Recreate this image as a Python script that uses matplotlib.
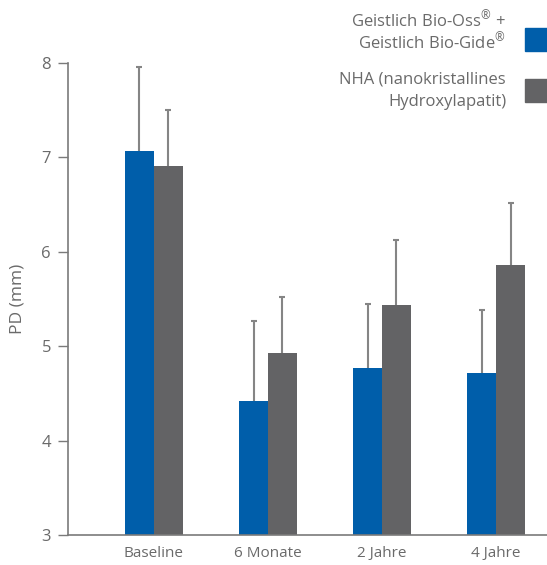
import matplotlib
matplotlib.use("Agg")
import matplotlib.pyplot as plt
import matplotlib.patches as mpatches
import numpy as np

# data
categories = ["Baseline", "6 Monate", "2 Jahre", "4 Jahre"]
bio_oss = [7.06, 4.42, 4.77, 4.72]
bio_oss_err = [0.89, 0.85, 0.68, 0.66]
nha = [6.91, 4.93, 5.44, 5.86]
nha_err = [0.59, 0.59, 0.68, 0.65]
yticks = [3, 4, 5, 6, 7, 8]

label_bio = ["Geistlich Bio-Oss$^{\\circledR}$ +", "Geistlich Bio-Gide$^{\\circledR}$"]
label_nha = ["NHA (nanokristallines", "Hydroxylapatit)"]

plt.rcParams['font.family'] = ['Open Sans', 'DejaVu Sans']
plt.rcParams['mathtext.fontset'] = 'custom'
plt.rcParams['mathtext.rm'] = 'Open Sans'

blue = '#005eaa'
grey = '#636365'
errc = '#858585'
txtc = '#6a6a6a'
axc = '#7a7a7a'

fig = plt.figure(figsize=(5.47, 5.65), dpi=100)
W, H = 547, 565
ax = fig.add_axes([68 / W, (565 - 535) / H, 1 - 68 / W, (535 - 62.7) / H])

x = np.arange(len(categories))
bw = 0.254
ax.bar(x - bw / 2, bio_oss, width=bw, color=blue, zorder=2)
ax.bar(x + bw / 2, nha, width=bw, color=grey, zorder=2)
# error bars behind the bars so only the upper half shows
ax.errorbar(x - bw / 2, bio_oss, yerr=bio_oss_err, fmt='none',
            ecolor=errc, elinewidth=1.5, capsize=2.5, capthick=1.5, zorder=1)
ax.errorbar(x + bw / 2, nha, yerr=nha_err, fmt='none',
            ecolor=errc, elinewidth=1.5, capsize=2.5, capthick=1.5, zorder=1)

ax.set_ylim(3, 8)
ax.set_xlim(-0.754, 3.447)
ax.set_yticks(yticks)
ax.set_xticks(x)
ax.set_xticklabels(categories)
ax.tick_params(axis='y', length=7.2, width=1, color=axc, labelcolor=txtc,
               labelsize=12, pad=5)
ax.tick_params(axis='x', length=0, labelcolor=txtc, labelsize=11, pad=8)
for s in ['top', 'right']:
    ax.spines[s].set_visible(False)
for s in ['left', 'bottom']:
    ax.spines[s].set_color(axc)
    ax.spines[s].set_linewidth(1.2)
ax.set_ylabel("PD (mm)", color=txtc, fontsize=12.5)
ax.yaxis.set_label_coords(-(68 - 26) / 479, 0.5)

# legend drawn by hand
fs = 12
fig.text(506 / W, 1 - 20 / H, label_bio[0], ha='right', va='center', color=txtc, fontsize=fs)
fig.text(506 / W, 1 - 42 / H, label_bio[1], ha='right', va='center', color=txtc, fontsize=fs)
fig.text(506 / W, 1 - 80 / H, label_nha[0], ha='right', va='center', color=txtc, fontsize=fs)
fig.text(506 / W, 1 - 102 / H, label_nha[1], ha='right', va='center', color=txtc, fontsize=fs)
fig.patches.append(mpatches.Rectangle((525 / W, 1 - 50.7 / H), 22 / W, 22.4 / H,
                                      transform=fig.transFigure, color=blue))
fig.patches.append(mpatches.Rectangle((525 / W, 1 - 101.7 / H), 22 / W, 22.4 / H,
                                      transform=fig.transFigure, color=grey))

fig.savefig("out.png", dpi=100)
